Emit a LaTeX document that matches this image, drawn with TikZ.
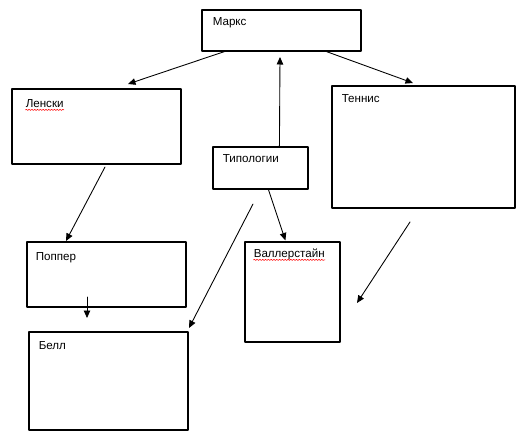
\documentclass[tikz,border=0pt]{standalone}
\usepackage{fontspec}
\setmainfont{Liberation Sans}
\usetikzlibrary{arrows.meta, calc, fit, decorations.pathmorphing}

\begin{document}
\begin{tikzpicture}[x=0.02cm, y=-0.02cm, line cap=round, line join=round,
    box/.style={draw, line width=0.65pt, inner sep=0pt},
    txt/.style={anchor=base west, inner sep=0pt, font=\fontsize{6.6}{7}\selectfont},
    flecha/.style={-{Triangle[length=1.5mm, width=1.3mm]}, line width=0.5pt},
    subr/.style={red, line width=0.3pt, decorate,
        decoration={snake, amplitude=0.35pt, segment length=1.6pt}}]

    % Marco de la figura
    \useasboundingbox (0,0) rectangle (521,439);

    % Cajas
    \node[box, fit={(202,10) (361,51)}]   (marks)  {};
    \node[box, fit={(12,89) (181,164)}]   (lenski) {};
    \node[box, fit={(213,147) (308,189)}] (tipol)  {};
    \node[box, fit={(332,86) (515,208)}]  (tennis) {};
    \node[box, fit={(27,242) (186,307)}]  (popper) {};
    \node[box, fit={(245,242) (340,342)}] (waller) {};
    \node[box, fit={(29,332) (188,430)}]  (bell)   {};

    % Textos de las cajas
    \node[txt] (marks-t)  at ($(marks.north west)+(11,16)$)  {Маркс};
    \node[txt] (lenski-t) at ($(lenski.north west)+(14,19)$) {Ленски};
    \node[txt] (tipol-t)  at ($(tipol.north west)+(10,16)$)  {Типологии};
    \node[txt] (tennis-t) at ($(tennis.north west)+(10,17)$) {Теннис};
    \node[txt] (popper-t) at ($(popper.north west)+(9,19)$)  {Поппер};
    \node[txt] (waller-t) at ($(waller.north west)+(9,16)$)  {Валлерстайн};
    \node[txt] (bell-t)   at ($(bell.north west)+(10,18)$)   {Белл};

    % Subrayado ortográfico
    \draw[subr] ([yshift=-1.4pt]lenski-t.base west) -- ([yshift=-1.4pt]lenski-t.base east);
    \draw[subr] ([yshift=-1.4pt]waller-t.base west) -- ([yshift=-1.4pt]waller-t.base east);

    % Extremos libres de las flechas
    \coordinate (f1) at (128,84);
    \coordinate (f2) at (280,57);
    \coordinate (f3) at (413,83);
    \coordinate (s4) at (105,167);
    \coordinate (f4) at (66,241);
    \coordinate (s5) at (87,297);
    \coordinate (f5) at (87,318);
    \coordinate (s6) at (253,204);
    \coordinate (f6) at (189,328);
    \coordinate (s8) at (410,222);
    \coordinate (f8) at (357,303);

    % Flechas
    \draw[flecha] ($(marks.south west)+(23,0)$) -- (f1);
    \draw[flecha] ($(tipol.north west)+(67,0)$) -- (f2);
    \draw[flecha] ($(marks.south west)+(125,0)$) -- (f3);
    \draw[flecha] (s4) -- (f4);
    \draw[flecha] (s5) -- (f5);
    \draw[flecha] (s6) -- (f6);
    \draw[flecha] ($(tipol.south west)+(56,0)$) -- ($(waller.north west)+(41,-1)$);
    \draw[flecha] (s8) -- (f8);

\end{tikzpicture}
\end{document}
